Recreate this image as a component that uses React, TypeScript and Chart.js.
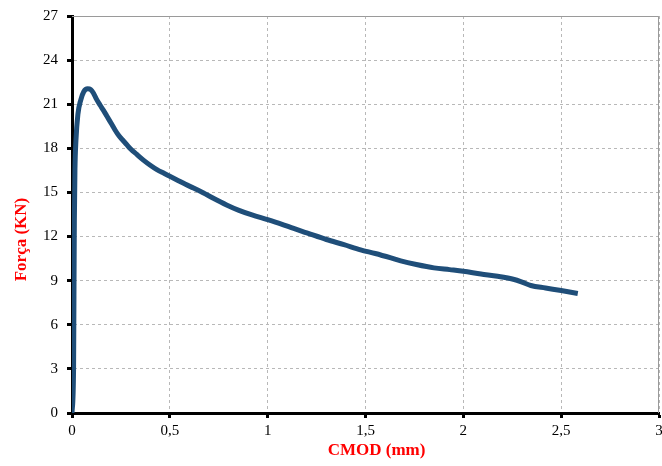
import React, { useEffect, useRef } from "react";
import { Chart, registerables } from "chart.js";

Chart.register(...registerables);

const cmod: number[] = [
  0, 0.008, 0.01, 0.012, 0.015, 0.02, 0.03, 0.045, 0.06, 0.08, 0.095, 0.11, 0.125, 0.143, 0.16, 0.178,
  0.2, 0.22, 0.24, 0.263, 0.28, 0.3, 0.33, 0.365, 0.4, 0.434, 0.47, 0.5, 0.544, 0.58, 0.621, 0.67,
  0.72, 0.79, 0.85, 0.92, 1.0, 1.07, 1.133, 1.2, 1.3, 1.39, 1.475, 1.55, 1.63, 1.68, 1.76, 1.85,
  1.93, 2.0, 2.09, 2.175, 2.26, 2.3, 2.345, 2.42, 2.5, 2.585,
];
const forca: number[] = [
  0, 3, 8, 13, 16.5, 18.5, 20.3, 21.3, 21.85, 22.05, 22.0, 21.75, 21.35, 20.95, 20.6, 20.2,
  19.7, 19.25, 18.85, 18.5, 18.25, 17.95, 17.6, 17.2, 16.85, 16.55, 16.3, 16.1, 15.8, 15.55, 15.3, 14.98,
  14.62, 14.15, 13.8, 13.47, 13.15, 12.85, 12.55, 12.25, 11.8, 11.45, 11.1, 10.85, 10.55, 10.35, 10.1, 9.87,
  9.75, 9.64, 9.45, 9.3, 9.08, 8.9, 8.67, 8.5, 8.33, 8.13,
];
const xTitle = "CMOD (mm)";
const yTitle = "Força (KN)";
const xMin = 0, xMax = 3, xStep = 0.5;
const yMin = 0, yMax = 27, yStep = 3;

const titleFontCss = "bold 17px 'Liberation Serif', 'Times New Roman', serif";

const framePlugin = {
  id: "frame",
  beforeDatasetsDraw(chart: any) {
    const { ctx, chartArea } = chart;
    ctx.save();
    ctx.strokeStyle = "#9a9a9a";
    ctx.lineWidth = 1;
    ctx.beginPath();
    ctx.moveTo(chartArea.left, chartArea.top + 0.5);
    ctx.lineTo(chartArea.right - 0.5, chartArea.top + 0.5);
    ctx.lineTo(chartArea.right - 0.5, chartArea.bottom);
    ctx.stroke();
    ctx.restore();
  },
};

const axisTitlePlugin = {
  id: "axisTitles",
  afterDraw(chart: any) {
    const { ctx, chartArea } = chart;
    ctx.save();
    ctx.font = titleFontCss;
    ctx.fillStyle = "#ff0000";
    ctx.textAlign = "center";
    ctx.textBaseline = "middle";
    ctx.fillText(xTitle, (chartArea.left + chartArea.right) / 2 + 11, chartArea.bottom + 38);
    ctx.translate(22, (chartArea.top + chartArea.bottom) / 2 + 25);
    ctx.rotate(-Math.PI / 2);
    ctx.fillText(yTitle, 0, 0);
    ctx.restore();
  },
};

export default function App() {
  const ref = useRef<HTMLCanvasElement>(null);
  useEffect(() => {
    if (!ref.current) return;
    const tickFont = { family: "'Liberation Serif', 'Times New Roman', serif", size: 15 };
    const chart = new Chart(ref.current, {
      type: "line",
      data: {
        datasets: [
          {
            data: cmod.map((x, i) => ({ x, y: forca[i] })),
            borderColor: "#1f4e79",
            borderWidth: 5,
            pointRadius: 0,
            cubicInterpolationMode: "monotone",
            fill: false,
          },
        ],
      },
      options: {
        animation: false,
        responsive: false,
        layout: { padding: { left: 0, right: 3, top: 16, bottom: 0 } },
        plugins: { legend: { display: false }, tooltip: { enabled: false } },
        scales: {
          x: {
            type: "linear",
            min: xMin,
            max: xMax,
            afterFit: (s: any) => { s.height = 53; s.paddingLeft = 0; s.paddingRight = 0; },
            ticks: {
              stepSize: xStep,
              color: "#000",
              font: tickFont,
              padding: 4,
              maxRotation: 0,
              callback: (v: any) => String(v).replace(".", ","),
            },
            grid: { color: "#b8b8b8", lineWidth: 1, tickLength: 5, tickColor: "#000", tickWidth: 3 },
            border: { color: "#000", width: 3, dash: [3, 3] },
            title: { display: false, text: xTitle },
          },
          y: {
            type: "linear",
            min: yMin,
            max: yMax,
            afterFit: (s: any) => { s.width = 72; s.paddingTop = 0; s.paddingBottom = 0; },
            ticks: { stepSize: yStep, color: "#000", font: tickFont, padding: 9 },
            grid: { color: "#b8b8b8", lineWidth: 1, tickLength: 5, tickColor: "#000", tickWidth: 3 },
            border: { color: "#000", width: 3, dash: [3, 3] },
            title: { display: false, text: yTitle },
          },
        },
      },
      plugins: [framePlugin, axisTitlePlugin],
    });
    return () => chart.destroy();
  }, []);
  return (
    <div style={{ position: "absolute", left: 0, top: 0, width: 662, height: 466, background: "#fff" }}>
      <canvas ref={ref} width={662} height={466} style={{ display: "block" }} />
    </div>
  );
}
